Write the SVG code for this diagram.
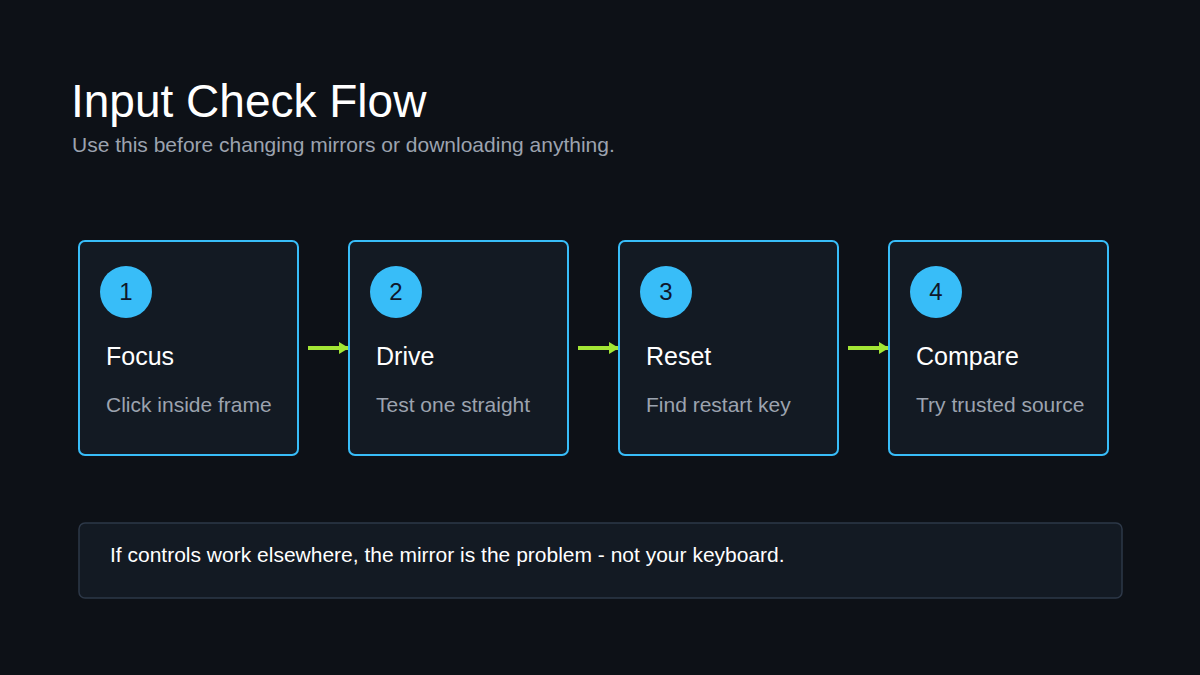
<svg xmlns="http://www.w3.org/2000/svg" width="1200" height="675" viewBox="0 0 1200 675">
<defs>
<marker id="ah" markerWidth="10" markerHeight="12" refX="9" refY="6" orient="auto" markerUnits="userSpaceOnUse"><path d="M0,0 L10,6 L0,12 Z" fill="#a3e635"/></marker>
</defs>
<style>
text{font-family:"Liberation Sans",Arial,sans-serif}
.box{fill:#131a23;stroke:#38bdf8;stroke-width:2}
.c{fill:#38bdf8}
.n{font-size:24px;fill:#0f172a;text-anchor:middle}
.t{font-size:25px;fill:#ffffff}
.s{font-size:21px;fill:#9ca3af}
.ln{stroke:#a3e635;stroke-width:4;fill:none}
</style>
<rect width="1200" height="675" fill="#0d1117"/>
<text x="71" y="117" style="font-size:46px;fill:#ffffff">Input Check Flow</text>
<text x="72" y="152" style="font-size:21px;fill:#9ca3af">Use this before changing mirrors or downloading anything.</text>
<g id="connectors">
<line class="ln" x1="308" y1="348" x2="348" y2="348" marker-end="url(#ah)"/>
<line class="ln" x1="578" y1="348" x2="618" y2="348" marker-end="url(#ah)"/>
<line class="ln" x1="848" y1="348" x2="888" y2="348" marker-end="url(#ah)"/>
</g>
<g id="n1"><rect class="box" x="79" y="241" width="219" height="214" rx="6"/><circle class="c" cx="126" cy="292" r="26"/><text class="n" x="126" y="300">1</text><text class="t" x="106" y="365">Focus</text><text class="s" x="106" y="412">Click inside frame</text></g>
<g id="n2"><rect class="box" x="349" y="241" width="219" height="214" rx="6"/><circle class="c" cx="396" cy="292" r="26"/><text class="n" x="396" y="300">2</text><text class="t" x="376" y="365">Drive</text><text class="s" x="376" y="412">Test one straight</text></g>
<g id="n3"><rect class="box" x="619" y="241" width="219" height="214" rx="6"/><circle class="c" cx="666" cy="292" r="26"/><text class="n" x="666" y="300">3</text><text class="t" x="646" y="365">Reset</text><text class="s" x="646" y="412">Find restart key</text></g>
<g id="n4"><rect class="box" x="889" y="241" width="219" height="214" rx="6"/><circle class="c" cx="936" cy="292" r="26"/><text class="n" x="936" y="300">4</text><text class="t" x="916" y="365">Compare</text><text class="s" x="916" y="412">Try trusted source</text></g>
<g id="note"><rect x="79" y="523" width="1043" height="75" rx="6" fill="#131a23" stroke="#2d3848" stroke-width="1.5"/><text x="110" y="562" style="font-size:21px;fill:#ffffff">If controls work elsewhere, the mirror is the problem - not your keyboard.</text></g>
</svg>
